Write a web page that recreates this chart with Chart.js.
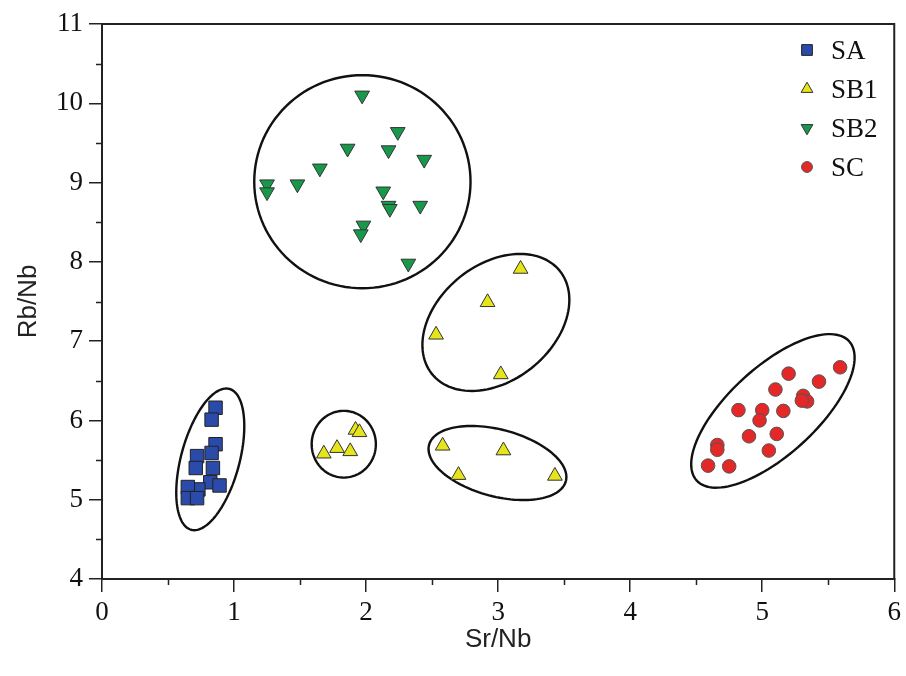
<!DOCTYPE html>
<html>
<head>
<meta charset="utf-8">
<script src="https://cdn.jsdelivr.net/npm/chart.js@4/dist/chart.umd.min.js"></script>
<style>
  body { margin: 0; background: #fff; }
  #wrap { width: 906px; height: 676px; }
</style>
</head>
<body>
<div id="wrap"><canvas id="myChart" width="906" height="676"></canvas></div>
<script>
// values (Sr/Nb on x, Rb/Nb on y)
const saX = [0.86, 0.83, 0.86, 0.83, 0.72, 0.71, 0.84, 0.82, 0.89, 0.73, 0.65, 0.65, 0.72];
const saY = [6.16, 6.01, 5.70, 5.59, 5.55, 5.40, 5.40, 5.22, 5.18, 5.13, 5.16, 5.02, 5.02];

const sb1X = [1.68, 1.78, 1.88, 1.92, 1.95, 2.58, 2.70, 3.04, 3.43, 3.17, 2.92, 2.53, 3.02];
const sb1Y = [5.58, 5.65, 5.61, 5.88, 5.85, 5.68, 5.31, 5.62, 5.30, 7.91, 7.49, 7.08, 6.58];

const sb2X = [1.97, 2.24, 1.86, 2.17, 2.44, 1.65, 1.48, 1.25, 1.25, 2.13, 2.17, 2.18, 2.41, 1.98, 1.96, 2.32];
const sb2Y = [10.10, 9.64, 9.43, 9.41, 9.29, 9.18, 8.98, 8.98, 8.88, 8.89, 8.71, 8.67, 8.71, 8.46, 8.35, 7.98];

const scX = [5.59, 5.20, 5.43, 5.10, 5.31, 5.34, 5.30, 4.82, 5.00, 5.16, 4.98, 4.90, 5.11, 4.66, 4.66, 5.05, 4.59, 4.75];
const scY = [6.67, 6.59, 6.49, 6.39, 6.31, 6.24, 6.25, 6.13, 6.13, 6.12, 6.00, 5.80, 5.83, 5.69, 5.63, 5.62, 5.43, 5.42];

const seriesNames = ["SA", "SB1", "SB2", "SC"];

// group outlines in data units: centre, major and minor semi-axis vectors
const groupCentres = [[0.820, 5.509], [1.831, 5.70], [2.995, 5.463], [2.983, 7.236], [1.972, 9.011], [5.081, 6.120]];
const groupMajor = [[0.145, 0.888], [0.243, 0], [0.518, -0.228], [0.486, 0.646], [0.819, 0], [0.578, 0.877]];
const groupMinor = [[0.213, -0.098], [0, 0.421], [-0.064, -0.408], [0.271, -0.574], [0, 1.344], [0.221, -0.411]];

function toPoints(xs, ys) {
  return xs.map((x, i) => ({ x: x, y: ys[i] }));
}

const serif = "'Liberation Serif', 'Times New Roman', serif";
const sans = "'Liberation Sans', Arial, sans-serif";
const axisColor = "#222";

const datasets = [
  { label: "SA", data: toPoints(saX, saY), pointStyle: "rect", pointRadius: 9.5,
    backgroundColor: "#2B4BAA", borderColor: "#222", borderWidth: 1 },
  { label: "SB1", data: toPoints(sb1X, sb1Y), pointStyle: "triangle", pointRadius: 8.5,
    backgroundColor: "#E6E41A", borderColor: "#333", borderWidth: 1 },
  { label: "SB2", data: toPoints(sb2X, sb2Y), pointStyle: "triangle", pointRotation: 180, pointRadius: 8.5,
    backgroundColor: "#17994C", borderColor: "#333", borderWidth: 1 },
  { label: "SC", data: toPoints(scX, scY), pointStyle: "circle", pointRadius: 6.8,
    backgroundColor: "#E42727", borderColor: "#555", borderWidth: 1 },
];

const ellipsePlugin = {
  id: "groups",
  beforeDatasetsDraw(chart) {
    const ctx = chart.ctx;
    const xs = chart.scales.x, ys = chart.scales.y;
    ctx.save();
    ctx.strokeStyle = "#111";
    ctx.lineWidth = 2.4;
    groupCentres.forEach((c, i) => {
      const u = groupMajor[i], v = groupMinor[i];
      ctx.beginPath();
      for (let k = 0; k <= 120; k++) {
        const t = (k / 120) * Math.PI * 2;
        const dx = c[0] + u[0] * Math.cos(t) + v[0] * Math.sin(t);
        const dy = c[1] + u[1] * Math.cos(t) + v[1] * Math.sin(t);
        const px = xs.getPixelForValue(dx), py = ys.getPixelForValue(dy);
        if (k === 0) ctx.moveTo(px, py); else ctx.lineTo(px, py);
      }
      ctx.closePath();
      ctx.stroke();
    });
    ctx.restore();
  },
};

const framePlugin = {
  id: "frame",
  afterDraw(chart) {
    const ctx = chart.ctx;
    const a = chart.chartArea;
    const xs = chart.scales.x, ys = chart.scales.y;
    ctx.save();
    ctx.strokeStyle = axisColor;
    ctx.lineWidth = 2;
    ctx.strokeRect(a.left, a.top, a.right - a.left, a.bottom - a.top);
    // minor ticks at the half units
    ctx.lineWidth = 1.5;
    ctx.beginPath();
    for (let v = xs.min + 0.5; v < xs.max; v += 1) {
      const px = Math.round(xs.getPixelForValue(v)) + 0.5;
      ctx.moveTo(px, a.bottom);
      ctx.lineTo(px, a.bottom + 6);
    }
    for (let v = ys.min + 0.5; v < ys.max; v += 1) {
      const py = Math.round(ys.getPixelForValue(v)) + 0.5;
      ctx.moveTo(a.left, py);
      ctx.lineTo(a.left - 6, py);
    }
    ctx.stroke();

    // legend in the top right corner of the plot
    const legendX = 807, legendY = 50, rowGap = 39;
    datasets.forEach((ds, i) => {
      const y = legendY + i * rowGap;
      const opts = {
        pointStyle: ds.pointStyle,
        rotation: ds.pointRotation || 0,
        radius: ds.pointRadius * 0.8,
        borderWidth: 1,
      };
      ctx.fillStyle = ds.backgroundColor;
      ctx.strokeStyle = ds.borderColor;
      ctx.lineWidth = 1;
      Chart.helpers.drawPoint(ctx, opts, legendX, y);
      ctx.fillStyle = "#111";
      ctx.font = "27px " + serif;
      ctx.textAlign = "left";
      ctx.textBaseline = "middle";
      ctx.fillText(seriesNames[i], legendX + 24, y + 2);
    });
    ctx.restore();
  },
};

new Chart(document.getElementById("myChart"), {
  type: "scatter",
  data: { datasets: datasets },
  plugins: [ellipsePlugin, framePlugin],
  options: {
    responsive: false,
    animation: false,
    layout: { padding: { top: 24, right: 9, left: 0, bottom: 0 } },
    plugins: { legend: { display: false }, tooltip: { enabled: false } },
    scales: {
      x: {
        type: "linear",
        min: 0,
        max: 6,
        afterFit: (scale) => { scale.height = 97; },
        ticks: { stepSize: 1, color: "#111", padding: 5, font: { family: serif, size: 27 } },
        grid: { drawOnChartArea: false, drawTicks: true, tickLength: 13, color: axisColor, lineWidth: 1.5 },
        border: { display: true, color: axisColor, width: 2 },
        title: { display: true, text: "Sr/Nb", color: "#222", padding: { top: 4, bottom: 21 },
                 font: { family: sans, size: 26 } },
      },
      y: {
        type: "linear",
        min: 4,
        max: 11,
        afterFit: (scale) => { scale.width = 102; },
        ticks: { stepSize: 1, color: "#111", padding: 6, font: { family: serif, size: 27 } },
        grid: { drawOnChartArea: false, drawTicks: true, tickLength: 13, color: axisColor, lineWidth: 1.5 },
        border: { display: true, color: axisColor, width: 2 },
        title: { display: true, text: "Rb/Nb", color: "#222", padding: { top: 13, bottom: 4 },
                 font: { family: sans, size: 26 } },
      },
    },
  },
});
</script>
</body>
</html>
